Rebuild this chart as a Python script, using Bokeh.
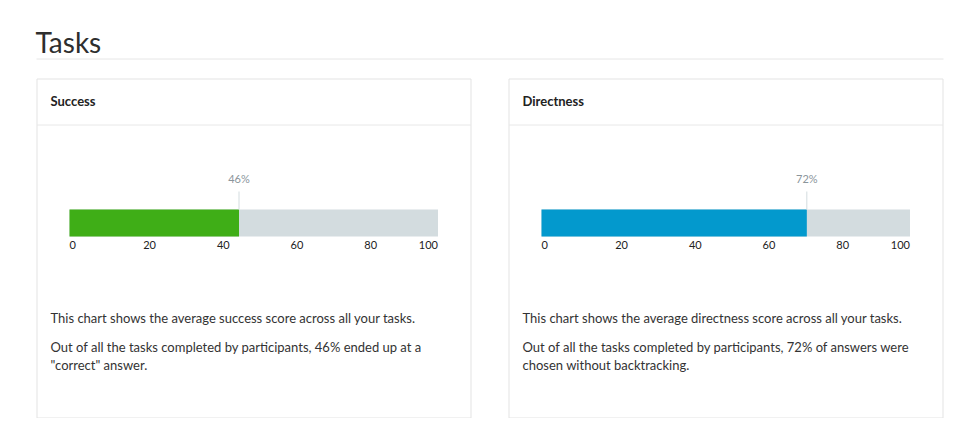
from bokeh.plotting import figure
from bokeh.models import Range1d
from bokeh.core.properties import value
from bokeh.embed import file_html
from bokeh.resources import INLINE

# ---- data ----
page_title = "Tasks"
categories = ["Success", "Directness"]
scores = [46, 72]
ticks = [0, 20, 40, 60, 80, 100]
tick_labels = ["0", "20", "40", "60", "80", "100"]
summaries = [
    "This chart shows the average success score across all your tasks.",
    "This chart shows the average directness score across all your tasks.",
]
details = [
    ["Out of all the tasks completed by participants, 46% ended up at a", "\"correct\" answer."],
    ["Out of all the tasks completed by participants, 72% of answers were", "chosen without backtracking."],
]

# ---- styles / layout ----
W, H = 964, 418
OFF = 1
FONT = "Lato"
BL = 0.36  # baseline correction (fraction of font size)
bar_colors = ["#3fae17", "#0399cd"]
track_color = "#d3dcdf"
card_left = [37, 509]
card_w = 434
bar_offset = 33      # bar start relative to card left
bar_px = 368.5       # pixel width of the 0..100 scale


def by(y, size):
    return y - BL * size


p = figure(width=W, height=H, output_backend="svg", toolbar_location=None,
           x_axis_type=None, y_axis_type=None,
           x_range=Range1d(OFF, OFF + W), y_range=Range1d(OFF + H, OFF),
           min_border=0, outline_line_color=None,
           background_fill_color="white", border_fill_color="white")

# title + rule
p.text(x=[36], y=[by(53, 28)], text=[page_title], text_font=value(FONT),
       text_font_size="28px", text_color="#2e2e2e", text_baseline="alphabetic")
p.segment(x0=[37], x1=[944], y0=[59.5], y1=[59.5], line_color="#e6e6e6", line_width=1)

for i, cat in enumerate(categories):
    cl = card_left[i]
    # card box and header separator
    p.quad(left=[cl + 0.5], right=[cl + card_w + 0.5], top=[79.5], bottom=[418.5],
           fill_color="white", line_color="#e3e3e3", line_width=1)
    p.segment(x0=[cl + 0.5], x1=[cl + card_w + 0.5], y0=[125.5], y1=[125.5],
              line_color="#e8e8e8", line_width=1)
    p.text(x=[cl + 14], y=[by(106, 13)], text=[cat], text_font=value(FONT),
           text_font_style="bold", text_font_size="13px", text_color="#222222",
           text_baseline="alphabetic")

    # bar scale: 0..100 mapped onto the card's bar area
    x0 = cl + bar_offset
    k = bar_px / 100.0
    rname = "scale_%d" % i
    p.extra_x_ranges[rname] = Range1d((OFF - x0) / k, (OFF + W - x0) / k)

    p.quad(left=[ticks[0]], right=[ticks[-1]], top=[210], bottom=[237],
           fill_color=track_color, line_color=None, x_range_name=rname)
    p.quad(left=[ticks[0]], right=[scores[i]], top=[210], bottom=[237],
           fill_color=bar_colors[i], line_color=None, x_range_name=rname)
    p.segment(x0=[scores[i]], x1=[scores[i]], y0=[192], y1=[210],
              line_color="#d3dcdf", line_width=1, x_range_name=rname)
    p.text(x=[scores[i]], y=[by(183, 11)], text=["%d%%" % scores[i]], text_font=value(FONT),
           text_font_size="11px", text_color="#8b959b", text_align="center",
           text_baseline="alphabetic", x_range_name=rname)
    aligns = ["left"] * (len(ticks) - 1) + ["right"]
    p.text(x=ticks, y=[by(249, 11)] * len(ticks), text=tick_labels,
           text_align=aligns, text_font=value(FONT), text_font_size="11px",
           text_color="#222222", text_baseline="alphabetic", x_range_name=rname)

    # description text
    p.text(x=[cl + 14], y=[by(323, 13)], text=[summaries[i]], text_font=value(FONT),
           text_font_size="13px", text_color="#333333", text_baseline="alphabetic")
    p.text(x=[cl + 14] * len(details[i]), y=[by(352, 13), by(370, 13)][:len(details[i])],
           text=details[i], text_font=value(FONT), text_font_size="13px",
           text_color="#333333", text_baseline="alphabetic")

open("out.html", "w").write(file_html(p, INLINE))
